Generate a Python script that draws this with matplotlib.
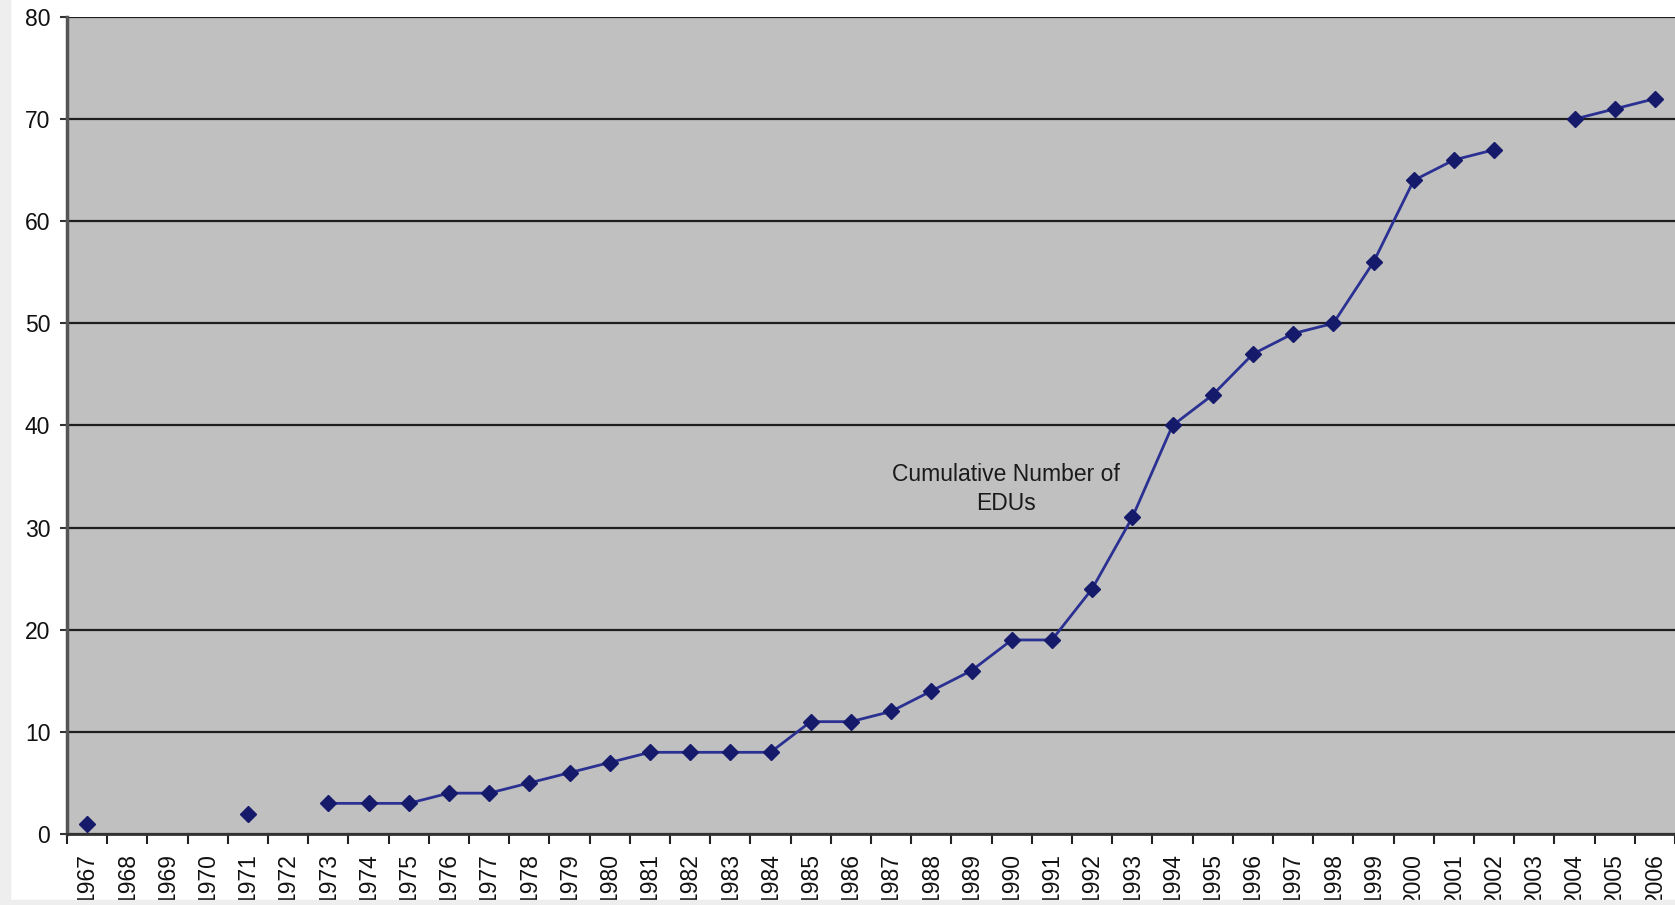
import numpy as np
import matplotlib.pyplot as plt
from matplotlib.patches import Rectangle

plt.rcParams['font.family'] = ['Liberation Sans', 'DejaVu Sans']

years = list(range(1967, 2007))
# cumulative count per year; nan where no value was recorded
edus = [1, np.nan, np.nan, np.nan, 2, np.nan, 3, 3, 3, 4,
        4, 5, 6, 7, 8, 8, 8, 8, 11, 11,
        12, 14, 16, 19, 19, 24, 31, 40, 43, 47,
        49, 50, 56, 64, 66, 67, np.nan, 70, 71, 72]
y_ticks = list(range(0, 90, 10))
series_label = "Cumulative Number of\nEDUs"

fig = plt.figure(figsize=(16.75, 9.05), dpi=100)
fig.patches.append(Rectangle((0, 0), 10 / 1675, 1, transform=fig.transFigure,
                             color='#eeeeee', zorder=0))
fig.patches.append(Rectangle((0, 0), 1, 5 / 905, transform=fig.transFigure,
                             color='#eeeeee', zorder=0))

ax = fig.add_axes([67 / 1675, 1 - 834 / 905, 1 - 67 / 1675, (834 - 17) / 905])
ax.set_facecolor('#c0c0c0')

x = np.arange(len(years))
ax.plot(x, edus, color='#2b3192', lw=2.0, marker='D', ms=8.5,
        mfc='#151a6b', mec='#151a6b', zorder=3, clip_on=False)

ax.set_xlim(-0.5, len(years) - 0.5)
ax.set_ylim(0, 80)
ax.set_yticks(y_ticks)
ax.yaxis.grid(True, color='#1e1e1e', lw=1.6)
ax.set_axisbelow(True)

# tick marks sit between categories, labels at the centres
ax.set_xticks(np.arange(-0.5, len(years), 1.0))
ax.set_xticklabels([])
ax.set_xticks(x, minor=True)
ax.set_xticklabels([str(v) for v in years], minor=True, rotation=90,
                   va='top', fontsize=16.5, color='#111111')
ax.tick_params(axis='x', which='major', direction='out', length=7, width=1.5,
               color='#222222')
ax.tick_params(axis='x', which='minor', length=0, pad=14)
ax.tick_params(axis='y', direction='out', length=5, width=1.5, color='#333333',
               labelsize=16.5, labelcolor='#111111', pad=7)

for side in ['top', 'right']:
    ax.spines[side].set_visible(False)
ax.spines['left'].set_color('#555555')
ax.spines['left'].set_linewidth(2.5)
ax.spines['bottom'].set_color('#333333')
ax.spines['bottom'].set_linewidth(2)

ax.text(22.85, 33.8, series_label, ha='center', va='center', fontsize=16.5,
        color='#1a1a1a', linespacing=1.35)

fig.savefig('out.png', dpi=100)
